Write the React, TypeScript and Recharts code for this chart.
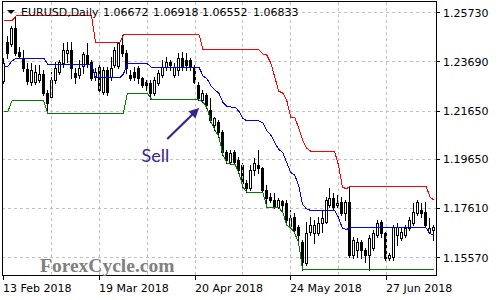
import { ComposedChart, Bar, Line, XAxis, YAxis, CartesianGrid, ReferenceLine, ReferenceArea, ReferenceDot } from "recharts";

// EURUSD daily, 13 Feb 2018 .. 13 Jul 2018 (109 bars)
const open = [
  1.2290, 1.2452, 1.2443, 1.2510, 1.2410, 1.2385, 1.2340, 1.2286, 1.2286, 1.2294,
  1.2319, 1.2240, 1.2223, 1.2294, 1.2327, 1.2365, 1.2406, 1.2419, 1.2323, 1.2315,
  1.2352, 1.2398, 1.2369, 1.2306, 1.2348, 1.2244, 1.2336, 1.2306, 1.2356, 1.2352,
  1.2439, 1.2406, 1.2315, 1.2327, 1.2344, 1.2302, 1.2286, 1.2282, 1.2240, 1.2282,
  1.2315, 1.2348, 1.2369, 1.2315, 1.2336, 1.2385, 1.2377, 1.2377, 1.2344, 1.2273,
  1.2211, 1.2232, 1.2170, 1.2107, 1.2120, 1.2078, 1.1995, 1.1954, 1.1995, 1.1962,
  1.1941, 1.1867, 1.1846, 1.1921, 1.1941, 1.1929, 1.1838, 1.1808, 1.1796, 1.1767,
  1.1792, 1.1784, 1.1688, 1.1725, 1.1684, 1.1622, 1.1535, 1.1663, 1.1659, 1.1659,
  1.1701, 1.1705, 1.1775, 1.1804, 1.1775, 1.1788, 1.1742, 1.1788, 1.1568, 1.1589,
  1.1622, 1.1589, 1.1568, 1.1597, 1.1651, 1.1705, 1.1659, 1.1555, 1.1559, 1.1651,
  1.1638, 1.1651, 1.1680, 1.1701, 1.1742, 1.1755, 1.1746, 1.1663, 1.1672,
];
const high = [
  1.2385, 1.2477, 1.2518, 1.2560, 1.2431, 1.2419, 1.2365, 1.2365, 1.2356, 1.2356,
  1.2336, 1.2253, 1.2327, 1.2369, 1.2377, 1.2448, 1.2452, 1.2452, 1.2344, 1.2377,
  1.2410, 1.2448, 1.2377, 1.2344, 1.2365, 1.2348, 1.2348, 1.2389, 1.2431, 1.2443,
  1.2481, 1.2419, 1.2336, 1.2348, 1.2352, 1.2306, 1.2294, 1.2294, 1.2306, 1.2336,
  1.2377, 1.2389, 1.2377, 1.2365, 1.2406, 1.2410, 1.2406, 1.2385, 1.2356, 1.2286,
  1.2253, 1.2240, 1.2219, 1.2140, 1.2128, 1.2087, 1.2004, 1.2004, 1.2004, 1.1974,
  1.1950, 1.1879, 1.1941, 1.1970, 1.2004, 1.1933, 1.1858, 1.1825, 1.1825, 1.1804,
  1.1796, 1.1796, 1.1755, 1.1742, 1.1692, 1.1630, 1.1705, 1.1725, 1.1713, 1.1725,
  1.1755, 1.1808, 1.1846, 1.1825, 1.1817, 1.1808, 1.1796, 1.1854, 1.1642, 1.1638,
  1.1630, 1.1597, 1.1651, 1.1672, 1.1713, 1.1713, 1.1663, 1.1576, 1.1692, 1.1701,
  1.1684, 1.1692, 1.1725, 1.1784, 1.1796, 1.1784, 1.1788, 1.1721, 1.1692,
];
const low = [
  1.2282, 1.2385, 1.2435, 1.2398, 1.2385, 1.2331, 1.2277, 1.2273, 1.2277, 1.2286,
  1.2232, 1.2157, 1.2215, 1.2282, 1.2319, 1.2348, 1.2369, 1.2302, 1.2282, 1.2302,
  1.2323, 1.2348, 1.2294, 1.2294, 1.2240, 1.2236, 1.2232, 1.2294, 1.2348, 1.2344,
  1.2394, 1.2323, 1.2294, 1.2294, 1.2282, 1.2265, 1.2253, 1.2215, 1.2232, 1.2273,
  1.2306, 1.2336, 1.2336, 1.2306, 1.2315, 1.2336, 1.2336, 1.2336, 1.2282, 1.2211,
  1.2203, 1.2178, 1.2120, 1.2087, 1.2057, 1.1983, 1.1950, 1.1945, 1.1945, 1.1908,
  1.1850, 1.1829, 1.1838, 1.1900, 1.1908, 1.1829, 1.1767, 1.1788, 1.1763, 1.1763,
  1.1746, 1.1692, 1.1680, 1.1659, 1.1618, 1.1506, 1.1526, 1.1651, 1.1618, 1.1651,
  1.1663, 1.1701, 1.1767, 1.1755, 1.1767, 1.1734, 1.1713, 1.1559, 1.1555, 1.1559,
  1.1555, 1.1539, 1.1506, 1.1589, 1.1642, 1.1642, 1.1547, 1.1547, 1.1547, 1.1609,
  1.1630, 1.1642, 1.1672, 1.1692, 1.1734, 1.1725, 1.1684, 1.1659, 1.1630,
];
const close = [
  1.2365, 1.2406, 1.2510, 1.2406, 1.2394, 1.2344, 1.2290, 1.2336, 1.2327, 1.2319,
  1.2240, 1.2199, 1.2294, 1.2344, 1.2369, 1.2419, 1.2419, 1.2344, 1.2306, 1.2344,
  1.2402, 1.2365, 1.2302, 1.2327, 1.2253, 1.2336, 1.2244, 1.2344, 1.2419, 1.2448,
  1.2406, 1.2344, 1.2302, 1.2306, 1.2302, 1.2273, 1.2273, 1.2240, 1.2294, 1.2323,
  1.2348, 1.2369, 1.2356, 1.2348, 1.2385, 1.2348, 1.2356, 1.2348, 1.2286, 1.2219,
  1.2240, 1.2190, 1.2128, 1.2136, 1.2078, 1.1995, 1.1962, 1.1991, 1.1954, 1.1921,
  1.1867, 1.1846, 1.1921, 1.1950, 1.1929, 1.1838, 1.1804, 1.1796, 1.1771, 1.1796,
  1.1775, 1.1713, 1.1721, 1.1672, 1.1651, 1.1539, 1.1659, 1.1692, 1.1692, 1.1701,
  1.1721, 1.1796, 1.1804, 1.1767, 1.1784, 1.1742, 1.1788, 1.1568, 1.1630, 1.1622,
  1.1589, 1.1568, 1.1638, 1.1659, 1.1701, 1.1659, 1.1555, 1.1568, 1.1684, 1.1684,
  1.1663, 1.1680, 1.1713, 1.1746, 1.1788, 1.1742, 1.1692, 1.1680, 1.1684,
];

// channel: upper (red), middle (blue), lower (green)
const upper = [
  1.2539, 1.2539, 1.2539, 1.2560, 1.2560, 1.2560, 1.2560, 1.2560, 1.2560, 1.2560,
  1.2560, 1.2560, 1.2560, 1.2560, 1.2560, 1.2560, 1.2560, 1.2560, 1.2560, 1.2560,
  1.2560, 1.2560, 1.2560, 1.2448, 1.2448, 1.2448, 1.2448, 1.2448, 1.2448, 1.2448,
  1.2481, 1.2481, 1.2481, 1.2481, 1.2481, 1.2481, 1.2481, 1.2481, 1.2481, 1.2481,
  1.2481, 1.2481, 1.2481, 1.2481, 1.2481, 1.2481, 1.2481, 1.2481, 1.2481, 1.2481,
  1.2419, 1.2419, 1.2419, 1.2419, 1.2419, 1.2419, 1.2419, 1.2419, 1.2419, 1.2419,
  1.2419, 1.2419, 1.2419, 1.2419, 1.2419, 1.2402, 1.2398, 1.2365, 1.2306, 1.2248,
  1.2240, 1.2211, 1.2140, 1.2140, 1.2095, 1.2045, 1.2012, 1.1999, 1.1999, 1.1999,
  1.1999, 1.1999, 1.1999, 1.1999, 1.1941, 1.1850, 1.1842, 1.1854, 1.1854, 1.1854,
  1.1854, 1.1854, 1.1854, 1.1854, 1.1854, 1.1854, 1.1854, 1.1854, 1.1854, 1.1854,
  1.1854, 1.1854, 1.1854, 1.1854, 1.1854, 1.1854, 1.1854, 1.1808, 1.1796,
];
const middle = [
  1.2352, 1.2352, 1.2373, 1.2384, 1.2384, 1.2384, 1.2384, 1.2384, 1.2384, 1.2384,
  1.2384, 1.2359, 1.2359, 1.2359, 1.2359, 1.2359, 1.2359, 1.2359, 1.2359, 1.2359,
  1.2359, 1.2359, 1.2359, 1.2303, 1.2303, 1.2303, 1.2303, 1.2303, 1.2303, 1.2303,
  1.2319, 1.2361, 1.2361, 1.2361, 1.2361, 1.2361, 1.2361, 1.2348, 1.2348, 1.2348,
  1.2348, 1.2348, 1.2348, 1.2348, 1.2348, 1.2348, 1.2348, 1.2348, 1.2348, 1.2346,
  1.2311, 1.2299, 1.2270, 1.2253, 1.2238, 1.2201, 1.2185, 1.2182, 1.2182, 1.2164,
  1.2135, 1.2124, 1.2124, 1.2124, 1.2124, 1.2116, 1.2083, 1.2066, 1.2035, 1.2006,
  1.1993, 1.1952, 1.1910, 1.1900, 1.1857, 1.1776, 1.1759, 1.1753, 1.1753, 1.1753,
  1.1753, 1.1753, 1.1753, 1.1753, 1.1724, 1.1678, 1.1674, 1.1680, 1.1680, 1.1680,
  1.1680, 1.1680, 1.1680, 1.1680, 1.1680, 1.1680, 1.1680, 1.1680, 1.1680, 1.1680,
  1.1680, 1.1680, 1.1680, 1.1680, 1.1680, 1.1680, 1.1680, 1.1657, 1.1651,
];
const lower = [
  1.2165, 1.2165, 1.2207, 1.2207, 1.2207, 1.2207, 1.2207, 1.2207, 1.2207, 1.2207,
  1.2207, 1.2157, 1.2157, 1.2157, 1.2157, 1.2157, 1.2157, 1.2157, 1.2157, 1.2157,
  1.2157, 1.2157, 1.2157, 1.2157, 1.2157, 1.2157, 1.2157, 1.2157, 1.2157, 1.2157,
  1.2157, 1.2240, 1.2240, 1.2240, 1.2240, 1.2240, 1.2240, 1.2215, 1.2215, 1.2215,
  1.2215, 1.2215, 1.2215, 1.2215, 1.2215, 1.2215, 1.2215, 1.2215, 1.2215, 1.2211,
  1.2203, 1.2178, 1.2120, 1.2087, 1.2057, 1.1983, 1.1950, 1.1945, 1.1945, 1.1908,
  1.1850, 1.1829, 1.1829, 1.1829, 1.1829, 1.1829, 1.1767, 1.1767, 1.1763, 1.1763,
  1.1746, 1.1692, 1.1680, 1.1659, 1.1618, 1.1506, 1.1506, 1.1506, 1.1506, 1.1506,
  1.1506, 1.1506, 1.1506, 1.1506, 1.1506, 1.1506, 1.1506, 1.1506, 1.1506, 1.1506,
  1.1506, 1.1506, 1.1506, 1.1506, 1.1506, 1.1506, 1.1506, 1.1506, 1.1506, 1.1506,
  1.1506, 1.1506, 1.1506, 1.1506, 1.1506, 1.1506, 1.1506, 1.1506, 1.1506,
];

const tickIdx = [0, 24, 48, 72, 96];
const tickDates = ["13 Feb 2018", "19 Mar 2018", "20 Apr 2018", "24 May 2018", "27 Jun 2018"];
const gridIdx = [12, 24, 36, 48, 60, 72, 84, 96];
const priceTicks = [1.2573, 1.2369, 1.2165, 1.1965, 1.1761, 1.1557];
const priceMin = 1.14848;
const priceMax = 1.26219;
const quote = ["1.06672", "1.06918", "1.06552", "1.06833"];
const sellArrow = [{ x: 41, y: 1.2049 }, { x: 49, y: 1.2178 }];
const sellLabel = { x: 38, y: 1.1954 };

const SELL = "#3b2390";
const FONT = "DejaVu Sans";

const rows = open.map((o, i) => ({
  i, o, h: high[i], l: low[i], c: close[i],
  range: [low[i], high[i]],
  up: upper[i], mid: middle[i], lo: lower[i],
}));

function Candle(props: any) {
  const { x, y, width, height, payload } = props;
  const { o, h, l, c } = payload;
  const top = Math.min(y, y + height);
  const span = Math.abs(height);
  const k = span / (h - l || 1);
  const py = (v: number) => top + (h - v) * k;
  const cx = Math.floor(x + width / 2);
  const bTop = Math.round(py(Math.max(o, c)));
  const bBot = Math.round(py(Math.min(o, c)));
  const bull = c >= o;
  return (
    <g>
      <line x1={cx + 0.5} x2={cx + 0.5} y1={Math.round(top)} y2={Math.round(top + span) + 1} stroke="#000" />
      <rect x={cx - 0.5} y={bTop + 0.5} width={2} height={Math.max(bBot - bTop, 1)}
        fill={bull ? "#fff" : "#000"} stroke="#000" />
    </g>
  );
}

function DateTick({ x, y, payload }: any) {
  const k = tickIdx.indexOf(payload.value);
  const px = Math.floor(x);
  return (
    <g>
      <line x1={px + 0.5} x2={px + 0.5} y1={y} y2={y + 5} stroke="#000" />
      <text x={px} y={y + 17} fontSize={11} fontFamily={FONT} fill="#000">{tickDates[k]}</text>
    </g>
  );
}

function Arrow({ x1, y1, x2, y2 }: any) {
  const dx = x2 - x1, dy = y2 - y1;
  const len = Math.hypot(dx, dy) || 1;
  const ux = dx / len, uy = dy / len;
  const hl = 10, hw = 5;
  const bx = x2 - ux * hl, by = y2 - uy * hl;
  return (
    <g style={{ shapeRendering: "geometricPrecision" }}>
      <line x1={x1} y1={y1} x2={bx + ux} y2={by + uy} stroke={SELL} strokeWidth={2.2} style={{ shapeRendering: "geometricPrecision" }} />
      <polygon points={`${x2},${y2} ${bx - uy * hw},${by + ux * hw} ${bx + uy * hw},${by - ux * hw}`} fill={SELL} />
    </g>
  );
}

export default function App() {
  return (
    <div style={{ position: "fixed", left: 0, top: 0, width: 500, height: 300, background: "#fff" }}>
      <style>{".mt line, .mt rect, .mt path { shape-rendering: crispEdges; }"}</style>
      <div className="mt">
        <ComposedChart width={500} height={300} data={rows} margin={{ top: 1, right: 4, left: 2, bottom: 0 }}>
          <CartesianGrid vertical={false} stroke="#c0c0c0" strokeDasharray="3 3" />
          {gridIdx.map((g) => (
            <ReferenceLine key={g} x={g} stroke="#c0c0c0" strokeDasharray="3 3" />
          ))}
          <XAxis dataKey="i" type="category" ticks={tickIdx} interval={0} tick={<DateTick />}
            tickLine={false} tickSize={0} tickMargin={0} height={25} axisLine={{ stroke: "#000" }} />
          <YAxis orientation="right" type="number" domain={[priceMin, priceMax]} ticks={priceTicks}
            allowDataOverflow interval={0} width={60} tickSize={4} tickMargin={3}
            tickFormatter={(v: number) => v.toFixed(5)}
            tick={{ fontSize: 11, fill: "#000", fontFamily: FONT }}
            axisLine={{ stroke: "#000" }} tickLine={{ stroke: "#000" }} />
          <ReferenceArea y1={priceMin} y2={priceMax} fill="none" stroke="#000" ifOverflow="visible" />
          <Bar dataKey="range" barSize={3} isAnimationActive={false} shape={(p: any) => <Candle {...p} />} />
          <Line dataKey="up" type="linear" stroke="#ff0000" strokeWidth={1} dot={false} activeDot={false} isAnimationActive={false} />
          <Line dataKey="mid" type="linear" stroke="#0000ff" strokeWidth={1} dot={false} activeDot={false} isAnimationActive={false} />
          <Line dataKey="lo" type="linear" stroke="#008000" strokeWidth={1} dot={false} activeDot={false} isAnimationActive={false} />
          <ReferenceLine segment={sellArrow} shape={(p: any) => <Arrow {...p} />} />
          <ReferenceDot x={sellLabel.x} y={sellLabel.y} r={0}
            shape={(p: any) => (
              <text x={p.cx} y={p.cy} textAnchor="middle" fontFamily="Lato" fontSize={18} fill={SELL}>Sell</text>
            )} />
        </ComposedChart>
      </div>
      <svg width={500} height={300} style={{ position: "absolute", left: 0, top: 0, pointerEvents: "none" }}>
        <polygon points="7,10 15,10 11,14" fill="#000" />
        <text x={21} y={16} fontSize={11} fontFamily={FONT} fill="#000">EURUSD,Daily</text>
        {quote.map((q, k) => (
          <text key={q} x={[103, 153, 202, 253][k]} y={16} fontSize={11} fontFamily={FONT} fill="#000">{q}</text>
        ))}
        <text x={40} y={272} fontSize={19.5} fontWeight="bold" fontFamily="Liberation Serif" fill="#808080">ForexCycle.com</text>
      </svg>
    </div>
  );
}
